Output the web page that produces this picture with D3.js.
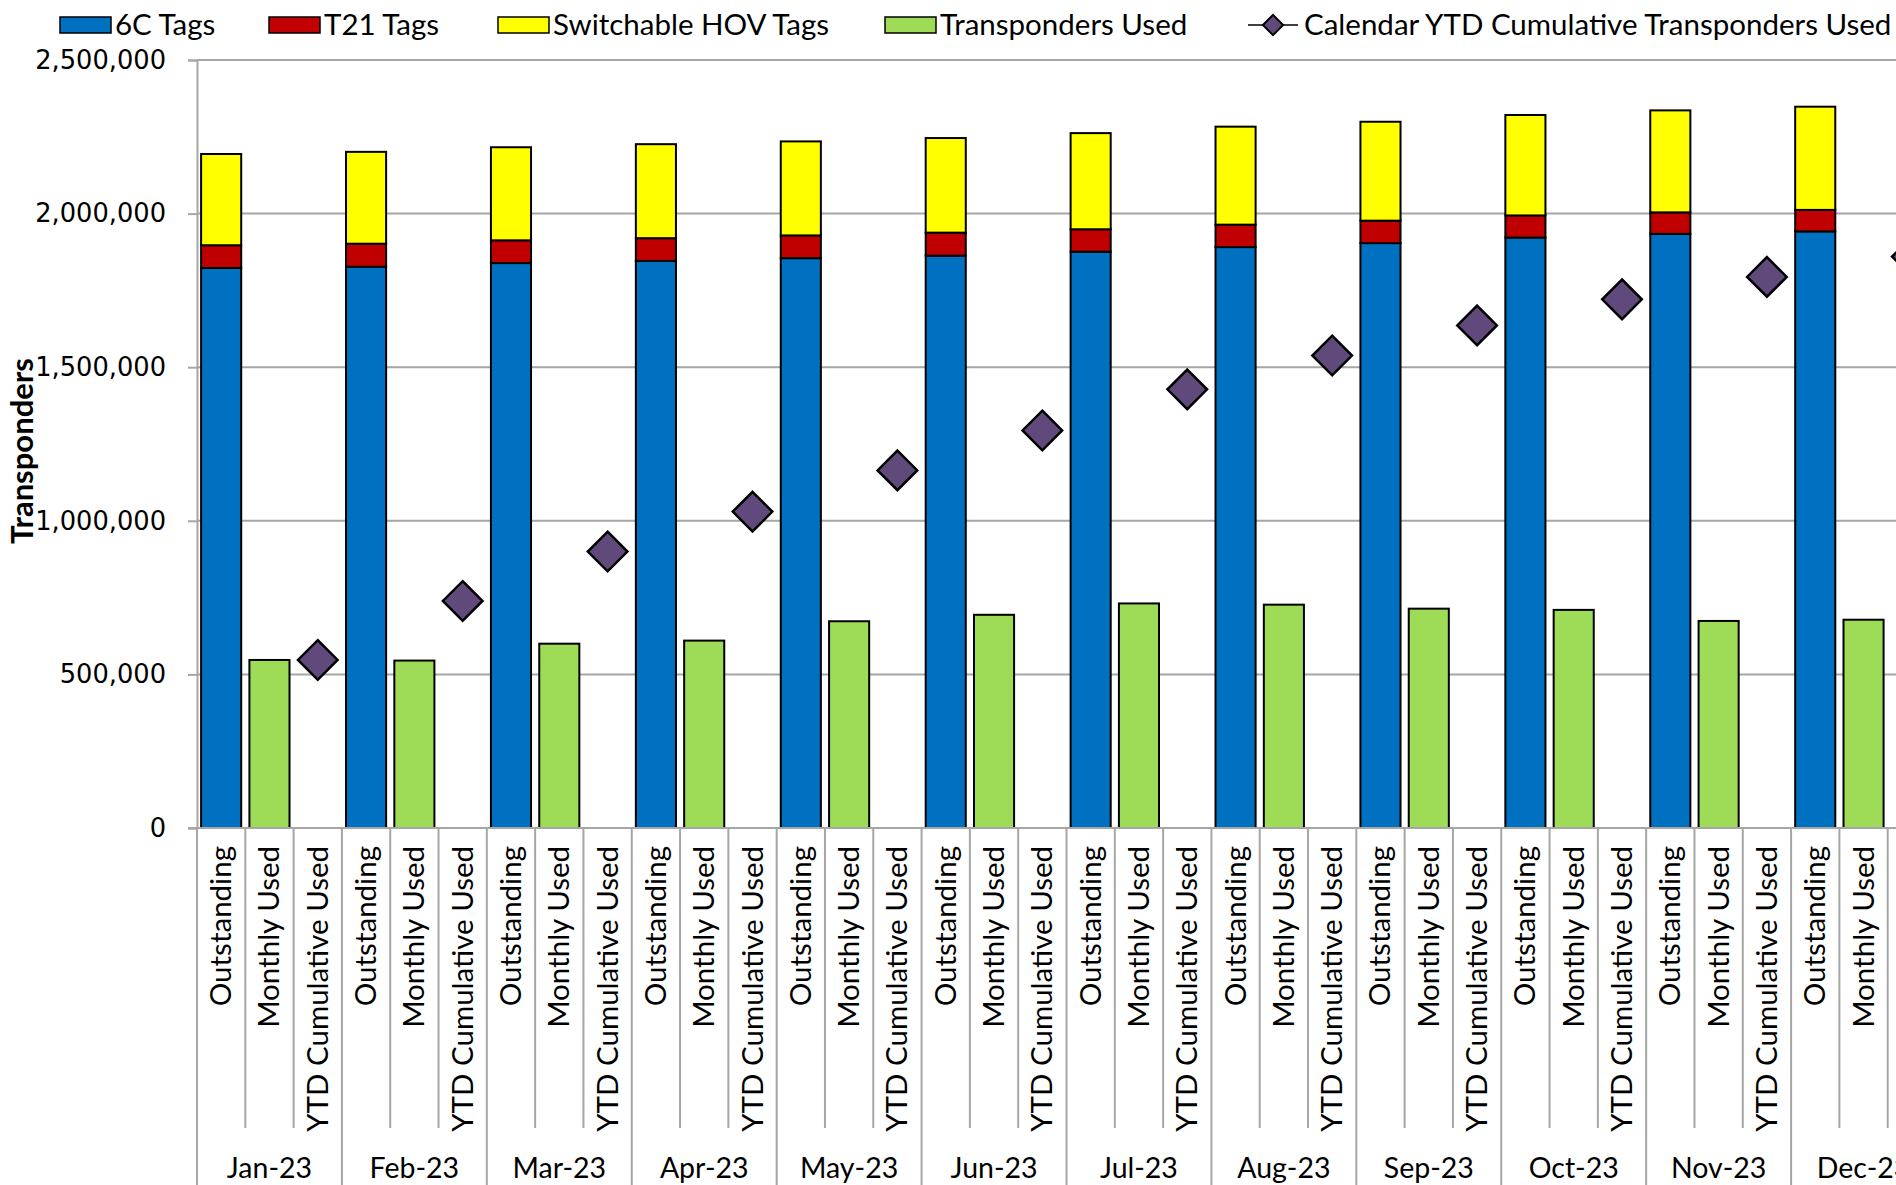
<!DOCTYPE html>
<html>
<head>
<meta charset="utf-8">
<script src="https://cdn.jsdelivr.net/npm/d3@7"></script>
<style>
  html, body { margin: 0; padding: 0; background: #ffffff; overflow: hidden; }
  svg { display: block; }
</style>
</head>
<body>
<svg id="chart" width="1896" height="1185"></svg>
<script>
// Monthly transponder inventory and usage, 2023
const months = ["Jan-23", "Feb-23", "Mar-23", "Apr-23", "May-23", "Jun-23",
                "Jul-23", "Aug-23", "Sep-23", "Oct-23", "Nov-23", "Dec-23"];
const subCategories = ["Outstanding", "Monthly Used", "YTD Cumulative Used"];

// Outstanding tags by type (stacked)
const tags6C   = [1823000, 1827000, 1839000, 1846000, 1855000, 1863000,
                  1876000, 1891000, 1904000, 1922000, 1934000, 1942000];
const tagsT21  = [74000, 75000, 74000, 74000, 74000, 75000,
                  73000, 73000, 73000, 72000, 70000, 70000];
const tagsHOV  = [297000, 299000, 303000, 306000, 306000, 308000,
                  313000, 319000, 322000, 327000, 332000, 336000];

// Transponders used in the month
const monthlyUsed = [547000, 545000, 600000, 610000, 673000, 694000,
                     731000, 727000, 714000, 710000, 674000, 678000];

// Calendar year-to-date cumulative transponders used
const ytdCumulative = [547000, 739000, 900000, 1030000, 1164000, 1294000,
                       1428000, 1538000, 1636000, 1721000, 1794000, 1860000];

const yTicks = [0, 500000, 1000000, 1500000, 2000000, 2500000];

const colors = {
  c6: "#0070C0",
  t21: "#C00000",
  hov: "#FFFF00",
  used: "#9EDC58",
  ytd: "#604A7B",
  grid: "#A6A6A6"
};

const textFont = "Lato, 'Open Sans', sans-serif";
const svg = d3.select("#chart");
const plot = { left: 197, top: 60, bottom: 828, right: 1936 };

// One slot per (month, sub-category) pair
const slots = [];
months.forEach((m, i) => subCategories.forEach((s, j) => slots.push({ month: m, mi: i, sub: s, si: j })));
const slotKey = d => d.month + "|" + d.sub;

const x = d3.scaleBand()
  .domain(slots.map(slotKey))
  .range([plot.left, plot.right])
  .padding(0);
const bw = x.bandwidth();
const barW = bw * 0.83;
const barOff = (bw - barW) / 2;

const y = d3.scaleLinear().domain([0, 2500000]).range([plot.bottom, plot.top]);

// Gridlines
svg.append("g")
  .selectAll("line")
  .data(yTicks.slice(1))
  .join("line")
  .attr("x1", plot.left).attr("x2", 1896)
  .attr("y1", d => y(d)).attr("y2", d => y(d))
  .attr("stroke", colors.grid).attr("stroke-width", 2);

// Y axis
const yAxis = svg.append("g")
  .attr("transform", `translate(${plot.left},0)`)
  .call(d3.axisLeft(y).tickValues(yTicks).tickFormat(d3.format(",")).tickSize(9).tickPadding(22));
yAxis.select(".domain").attr("stroke", colors.grid).attr("stroke-width", 2);
yAxis.selectAll(".tick line").attr("stroke", colors.grid).attr("stroke-width", 2);
yAxis.selectAll(".tick text")
  .attr("font-family", "'DejaVu Sans', Verdana, sans-serif")
  .attr("font-size", 25.7)
  .attr("fill", "#000");

// Y axis title
svg.append("text")
  .attr("transform", `translate(33, 451) rotate(-90)`)
  .attr("text-anchor", "middle")
  .attr("font-family", textFont)
  .attr("font-weight", "bold")
  .attr("font-size", 31)
  .text("Transponders");

// Stacked outstanding bars
const stackData = months.map((m, i) => ({ month: m, c6: tags6C[i], t21: tagsT21[i], hov: tagsHOV[i] }));
const stack = d3.stack().keys(["c6", "t21", "hov"])(stackData);
const barsG = svg.append("g");
stack.forEach(layer => {
  barsG.append("g")
    .selectAll("rect")
    .data(layer)
    .join("rect")
    .attr("x", d => x(d.data.month + "|" + subCategories[0]) + barOff)
    .attr("width", barW)
    .attr("y", d => y(d[1]))
    .attr("height", d => y(d[0]) - y(d[1]))
    .attr("fill", colors[layer.key])
    .attr("stroke", "#000")
    .attr("stroke-width", 2);
});

// Monthly used bars
barsG.append("g")
  .selectAll("rect")
  .data(months.map((m, i) => ({ month: m, v: monthlyUsed[i] })))
  .join("rect")
  .attr("x", d => x(d.month + "|" + subCategories[1]) + barOff)
  .attr("width", barW)
  .attr("y", d => y(d.v))
  .attr("height", d => y(0) - y(d.v))
  .attr("fill", colors.used)
  .attr("stroke", "#000")
  .attr("stroke-width", 2);

// YTD cumulative markers
const diamond = d3.symbol().type(d3.symbolDiamond2).size(1000);
svg.append("g")
  .selectAll("path")
  .data(months.map((m, i) => ({ month: m, v: ytdCumulative[i] })))
  .join("path")
  .attr("d", diamond)
  .attr("transform", d => `translate(${x(d.month + "|" + subCategories[2]) + bw / 2},${y(d.v)})`)
  .attr("fill", colors.ytd)
  .attr("stroke", "#000")
  .attr("stroke-width", 2.5)
  .attr("stroke-linejoin", "miter");

// Baseline
svg.append("line")
  .attr("x1", plot.left - 9).attr("x2", 1896)
  .attr("y1", y(0)).attr("y2", y(0))
  .attr("stroke", colors.grid).attr("stroke-width", 2);

// Category separators and labels
const catG = svg.append("g");
const boundaries = d3.range(slots.length + 1);
catG.selectAll("line")
  .data(boundaries)
  .join("line")
  .attr("x1", i => plot.left + i * bw)
  .attr("x2", i => plot.left + i * bw)
  .attr("y1", y(0))
  .attr("y2", i => (i % 3 === 0) ? 1185 : 1128)
  .attr("stroke", colors.grid)
  .attr("stroke-width", 2);

catG.selectAll("text.sub")
  .data(slots)
  .join("text")
  .attr("class", "sub")
  .attr("transform", d => `translate(${x(slotKey(d)) + bw / 2 + 10},${y(0) + 18}) rotate(-90)`)
  .attr("text-anchor", "end")
  .attr("font-family", textFont)
  .attr("font-size", 29.5)
  .text(d => d.sub);

catG.selectAll("text.month")
  .data(months)
  .join("text")
  .attr("class", "month")
  .attr("x", (m) => x(m + "|" + subCategories[1]) + bw / 2)
  .attr("y", 1178)
  .attr("text-anchor", "middle")
  .attr("font-family", textFont)
  .attr("font-size", 28.5)
  .text(m => m);

// Legend
const legend = svg.append("g").attr("font-family", textFont).attr("font-size", 29.5);
const legendItems = [
  { label: "6C Tags", color: colors.c6, x: 60 },
  { label: "T21 Tags", color: colors.t21, x: 269 },
  { label: "Switchable HOV Tags", color: colors.hov, x: 498 },
  { label: "Transponders Used", color: colors.used, x: 885 }
];
legendItems.forEach(it => {
  legend.append("rect")
    .attr("x", it.x).attr("y", 17).attr("width", 51).attr("height", 16)
    .attr("fill", it.color).attr("stroke", "#000").attr("stroke-width", 1.5);
  legend.append("text").attr("x", it.x + 55).attr("y", 35).text(it.label);
});
legend.append("line")
  .attr("x1", 1248).attr("x2", 1298).attr("y1", 25).attr("y2", 25)
  .attr("stroke", "#000").attr("stroke-width", 1.5);
legend.append("path")
  .attr("d", d3.symbol().type(d3.symbolDiamond2).size(260))
  .attr("transform", "translate(1273,25)")
  .attr("fill", colors.ytd).attr("stroke", "#000").attr("stroke-width", 2);
legend.append("text").attr("x", 1304).attr("y", 35).text("Calendar YTD Cumulative Transponders Used");
</script>
</body>
</html>
